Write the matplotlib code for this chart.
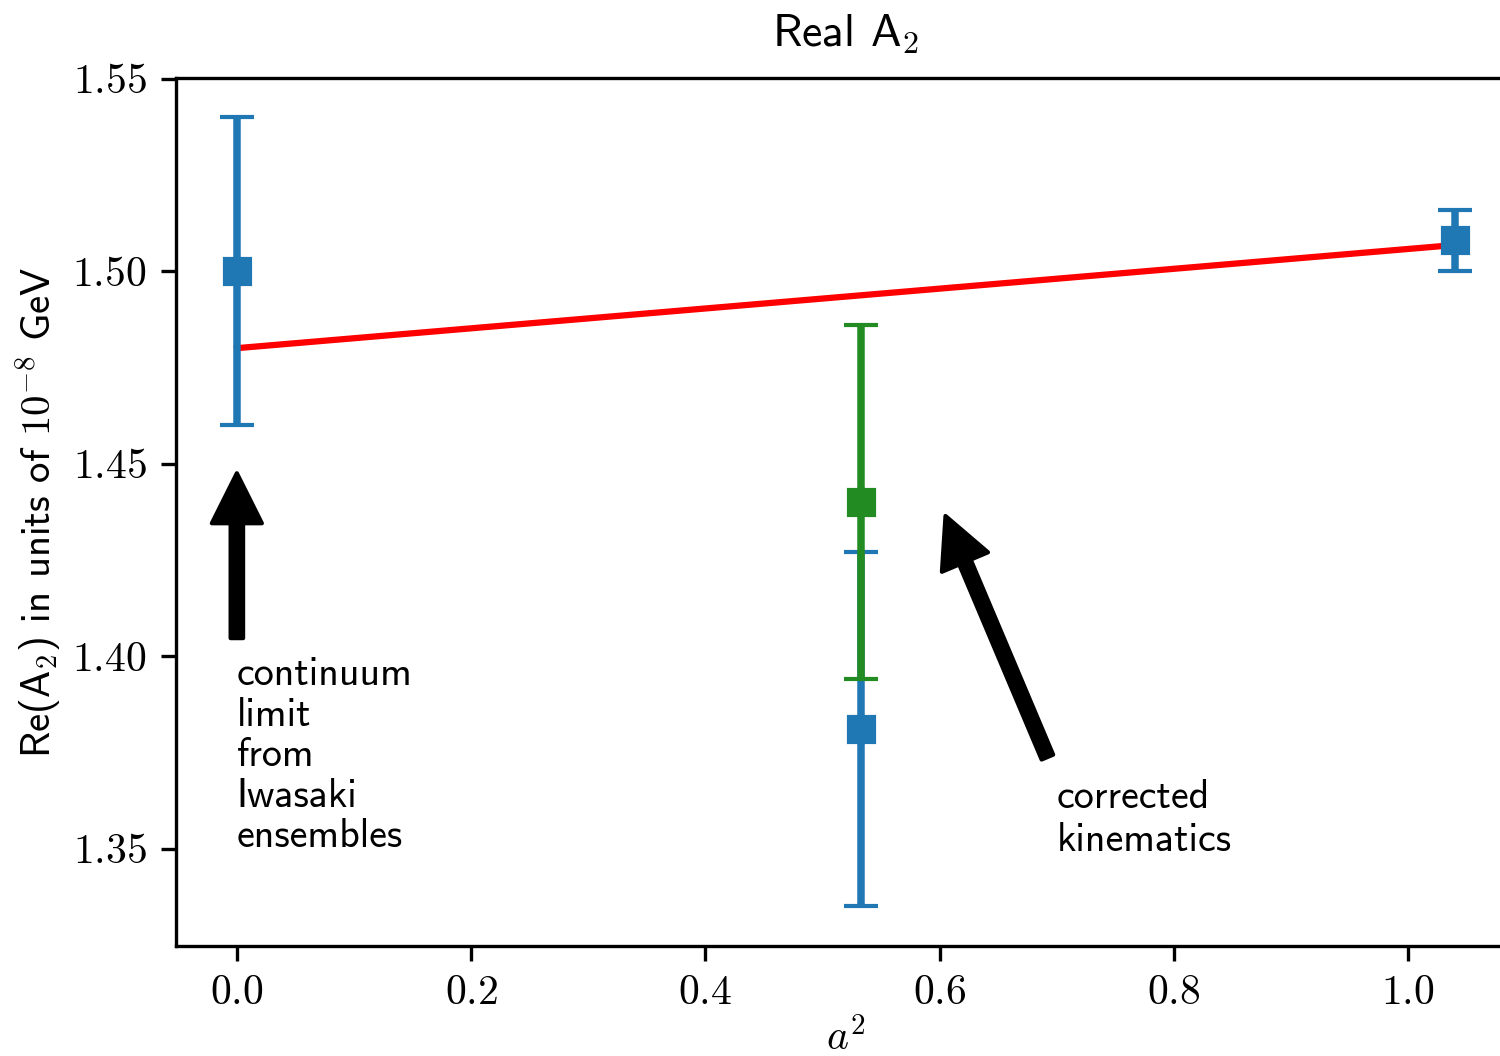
import matplotlib
matplotlib.use("Agg")
import matplotlib.pyplot as plt
from matplotlib.ticker import FuncFormatter

plt.rcParams['font.family'] = ['cmss10', 'DejaVu Sans']
plt.rcParams['mathtext.fontset'] = 'cm'
plt.rcParams['axes.unicode_minus'] = False
plt.rcParams['font.size'] = 10

# data
a2 = [0.0, 0.533, 1.04]
re_a2 = [1.500, 1.381, 1.508]
err = [0.040, 0.046, 0.008]

a2_corr = [0.533]
re_a2_corr = [1.440]
err_corr = [0.046]

fit_x = [0.0, 1.04]
fit_y = [1.480, 1.5068]

fig = plt.figure(figsize=(5, 3.52), dpi=300)
ax = fig.add_axes([0.1173, 0.1042, 0.8933, 0.8220])

ax.plot(fit_x, fit_y, color="red", lw=1.5, zorder=1)
ax.errorbar(a2, re_a2, yerr=err, fmt="s", color="#1f77b4", ms=6,
            elinewidth=1.8, capsize=4, capthick=1, zorder=2)
ax.errorbar(a2_corr, re_a2_corr, yerr=err_corr, fmt="s", color="forestgreen", ms=6,
            elinewidth=1.8, capsize=4, capthick=1, zorder=2)

ax.set_xlim(-0.052, 1.092)
ax.set_ylim(1.3247, 1.5502)
ax.set_xticks([0.0, 0.2, 0.4, 0.6, 0.8, 1.0])
ax.set_yticks([1.35, 1.40, 1.45, 1.50, 1.55])
ax.xaxis.set_major_formatter(FuncFormatter(lambda v, p: r"$%.1f$" % v))
ax.yaxis.set_major_formatter(FuncFormatter(lambda v, p: r"$%.2f$" % v))

arrow = dict(facecolor="black", shrink=0.05, width=3, headwidth=12, headlength=12)
ax.annotate("continuum\nlimit\nfrom\nIwasaki\nensembles", xy=(0.0, 1.45), xytext=(0.0, 1.40),
            va="top", ha="left", linespacing=1.12, fontsize=9.6, arrowprops=arrow)
ax.annotate("corrected\nkinematics", xy=(0.6, 1.44), xytext=(0.7, 1.368),
            va="top", ha="left", linespacing=1.2, fontsize=9.6, arrowprops=arrow)

ax.set_title(r"Real A$_2$", fontsize=11, pad=7.5)
ax.set_xlabel(r"$a^2$", labelpad=1.5)
ax.set_ylabel(r"Re(A$_2$) in units of $10^{-8}$ GeV", fontsize=9.8, labelpad=2)

fig.savefig("out.png", dpi=300)
